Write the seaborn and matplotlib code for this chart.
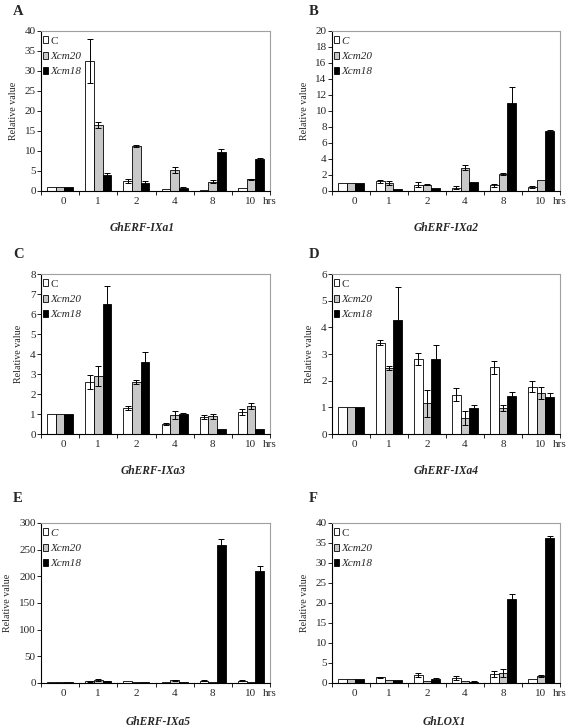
# Expression of ERF genes and GhLOX1 after Xcm inoculation (six panels)

import numpy as np
import pandas as pd
import matplotlib
matplotlib.use('Agg')
import matplotlib.pyplot as plt
import seaborn as sns

hours = ['0', '1', '2', '4', '8', '10']
strains = ['C', 'Xcm20', 'Xcm18']

# rows: C, Xcm20, Xcm18
ixa1_mean = [[1, 32.5, 2.6, 0.4, 0.2, 0.8],
             [1, 16.5, 11.3, 5.2, 2.3, 2.9],
             [1, 3.9, 2.0, 0.8, 9.8, 7.9]]
ixa1_err = [[0, 5.5, 0.5, 0, 0, 0],
            [0, 0.8, 0.3, 0.7, 0.4, 0.2],
            [0, 0.6, 0.4, 0.2, 0.6, 0.4]]

ixa2_mean = [[1, 1.2, 0.8, 0.4, 0.7, 0.5],
             [1, 1.0, 0.8, 2.9, 2.1, 1.4],
             [1, 0.2, 0.4, 1.1, 11.0, 7.5]]
ixa2_err = [[0, 0.2, 0.3, 0.2, 0.2, 0.1],
            [0, 0.2, 0.1, 0.3, 0.1, 0],
            [0, 0, 0, 0, 2.0, 0.1]]

ixa3_mean = [[1, 2.6, 1.3, 0.5, 0.85, 1.1],
             [1, 2.9, 2.62, 0.95, 0.88, 1.38],
             [1, 6.5, 3.6, 1.0, 0.25, 0.25]]
ixa3_err = [[0, 0.35, 0.1, 0.05, 0.1, 0.15],
            [0, 0.5, 0.1, 0.2, 0.12, 0.15],
            [0, 0.9, 0.48, 0.03, 0, 0]]

ixa4_mean = [[1, 3.42, 2.8, 1.48, 2.5, 1.78],
             [1, 2.47, 1.15, 0.6, 0.98, 1.53],
             [1, 4.27, 2.83, 0.97, 1.42, 1.37]]
ixa4_err = [[0, 0.1, 0.22, 0.25, 0.25, 0.22],
            [0, 0.08, 0.5, 0.28, 0.1, 0.22],
            [0, 1.23, 0.5, 0.12, 0.15, 0.18]]

ixa5_mean = [[1, 3, 3, 1, 4, 4],
             [1, 5, 2, 5, 1, 1],
             [1, 3, 1, 2, 258, 210]]
ixa5_err = [[0, 1, 0, 0, 1, 1],
            [0, 2, 0, 1, 0, 0],
            [0, 1, 0, 0, 12, 10]]

lox1_mean = [[1, 1.4, 2.0, 1.2, 2.2, 0.9],
             [1, 0.8, 0.6, 0.6, 2.5, 1.8],
             [1, 0.8, 1.0, 0.35, 21.0, 36.2]]
lox1_err = [[0, 0.2, 0.5, 0.5, 0.7, 0],
            [0, 0, 0, 0, 1.0, 0.2],
            [0, 0, 0.2, 0.1, 1.2, 0.5]]

sns.set_theme(style='white')
plt.rcParams['font.family'] = ['Liberation Serif', 'DejaVu Serif']

W, H = 566, 728
fig = plt.figure(figsize=(W / 100, H / 100), dpi=100)

# letter, gene, mean, err, ymax, step, axes box (px), letter pos, title pos, italic C
panels = [
    ('A', 'GhERF-IXa1', ixa1_mean, ixa1_err, 40, 5, (41, 31, 270, 191), (13, 5), (142, 228), False),
    ('B', 'GhERF-IXa2', ixa2_mean, ixa2_err, 20, 2, (332, 31, 560, 191), (309, 5), (446, 228), True),
    ('C', 'GhERF-IXa3', ixa3_mean, ixa3_err, 8, 1, (41, 274, 270, 434), (13, 248), (153, 471), False),
    ('D', 'GhERF-IXa4', ixa4_mean, ixa4_err, 6, 1, (332, 274, 560, 434), (309, 248), (446, 471), False),
    ('E', 'GhERF-IXa5', ixa5_mean, ixa5_err, 300, 50, (41, 523, 270, 683), (13, 492), (158, 722), True),
    ('F', 'GhLOX1', lox1_mean, lox1_err, 40, 5, (332, 523, 560, 683), (309, 492), (444, 722), False),
]

label_shift = [0.08, 0, 0, 0, 0, 0]

for letter, gene, mean, err, ymax, step, box, lpos, tpos, c_ital in panels:
    x0, y0, x1, y1 = box
    ax = fig.add_axes([x0 / W, 1 - y1 / H, (x1 - x0) / W, (y1 - y0) / H])

    rows = []
    for s, vals in zip(strains, mean):
        for h, v in zip(hours, vals):
            rows.append({'Time': h, 'Strain': s, 'Value': v})
    df = pd.DataFrame(rows)

    sns.barplot(data=df, x='Time', y='Value', hue='Strain', order=hours,
                hue_order=strains, palette=['white', '#c8c8c8', 'black'],
                saturation=1, edgecolor='black', linewidth=0.6, width=0.68,
                errorbar=None, ax=ax)

    # error bars at the bar tops
    for cont, errs in zip(ax.containers, err):
        for bar, e in zip(cont, errs):
            if e > 0:
                ax.errorbar(bar.get_x() + bar.get_width() / 2, bar.get_height(),
                            yerr=e, fmt='none', ecolor='black', elinewidth=0.7,
                            capsize=2.2, capthick=0.7)

    ax.set_xlim(-0.5, 5.5)
    ax.set_ylim(0, ymax)
    ax.set_yticks(np.arange(0, ymax + step / 2, step))
    ax.set_xticks(np.arange(-0.5, 6, 1))
    ax.set_xticklabels([])
    ax.set_xticks(np.arange(6) + np.array(label_shift), labels=hours, minor=True)
    ax.tick_params(axis='x', which='major', bottom=True, direction='out',
                   length=3, width=0.6, color='black')
    ax.tick_params(axis='x', which='minor', bottom=True, length=0, pad=4.5,
                   labelsize=8)
    ax.tick_params(axis='y', left=True, direction='out', length=2.8, width=0.6,
                   color='black', labelsize=8, pad=1)
    ax.set_xlabel('')
    ax.set_ylabel('Relative value', fontsize=7.2, labelpad=5)

    ax.annotate('hrs', xy=(5.5, 0), xycoords=('data', 'axes fraction'),
                xytext=(0, -4.5), textcoords='offset points', ha='center',
                va='top', fontsize=8)

    for side in ['left', 'bottom']:
        ax.spines[side].set_color('black')
        ax.spines[side].set_linewidth(0.8)
    for side in ['top', 'right']:
        ax.spines[side].set_color('#a0a0a0')
        ax.spines[side].set_linewidth(0.8)

    leg = ax.legend(ax.containers, strains, loc='upper left', frameon=False,
                    fontsize=8, handlelength=0.45, handleheight=0.55,
                    handletextpad=0.2, labelspacing=0.55, borderaxespad=0,
                    borderpad=0.2, bbox_to_anchor=(0, 0.98))
    for t in leg.get_texts():
        if t.get_text() != 'C' or c_ital:
            t.set_style('italic')

    fig.text(lpos[0] / W, 1 - lpos[1] / H, letter, fontsize=10.5,
             fontweight='bold', ha='left', va='top')
    fig.text(tpos[0] / W, 1 - tpos[1] / H, gene, fontsize=8.3,
             fontweight='bold', fontstyle='italic', ha='center', va='center')

fig.savefig('out.png', dpi=100)
